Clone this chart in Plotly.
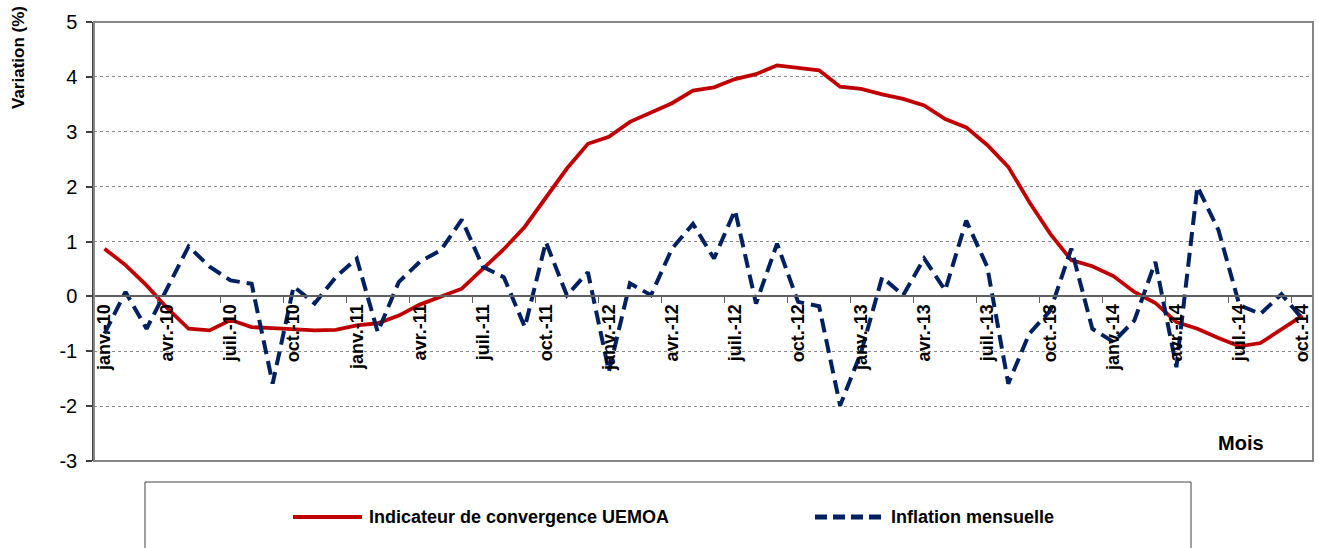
import plotly.graph_objects as go

# ---- data ----
month_names = ["janv.", "févr.", "mars", "avr.", "mai", "juin",
               "juil.", "août", "sept.", "oct.", "nov.", "déc."]
years = ["10", "11", "12", "13", "14"]
months = [f"{m}-{y}" for y in years for m in month_names][:58]  # janv.-10 .. oct.-14

indicateur = [0.87, 0.57, 0.20, -0.22, -0.59, -0.62, -0.43, -0.56, -0.58, -0.60,
              -0.62, -0.61, -0.53, -0.49, -0.35, -0.15, -0.01, 0.14, 0.50, 0.86,
              1.27, 1.81, 2.33, 2.78, 2.91, 3.18, 3.35, 3.52, 3.75, 3.81,
              3.96, 4.05, 4.21, 4.17, 4.12, 3.82, 3.78, 3.68, 3.60, 3.48,
              3.23, 3.08, 2.76, 2.36, 1.72, 1.14, 0.66, 0.55, 0.37, 0.08,
              -0.12, -0.47, -0.59, -0.76, -0.91, -0.85, -0.59, -0.35]

inflation = [-0.68, 0.08, -0.59, 0.15, 0.91, 0.54, 0.29, 0.23, -1.59, 0.18,
             -0.13, 0.35, 0.69, -0.65, 0.26, 0.63, 0.84, 1.40, 0.54, 0.35,
             -0.56, 0.99, 0.02, 0.44, -1.37, 0.24, 0.02, 0.87, 1.32, 0.69,
             1.57, -0.13, 0.96, -0.10, -0.18, -1.99, -1.02, 0.35, 0.02, 0.69,
             0.11, 1.38, 0.54, -1.59, -0.68, -0.26, 0.87, -0.59, -0.83, -0.44,
             0.63, -1.29, 2.00, 1.21, -0.16, -0.32, 0.04, -0.41]

series_names = ["Indicateur de convergence UEMOA", "Inflation mensuelle"]
y_ticks = [-3, -2, -1, 0, 1, 2, 3, 4, 5]
y_tick_text = ["-3", "-2", "-1", "0", "1", "2", "3", "4", "5"]

RED = "#C00000"
BLUE = "#002060"
FONT = "Liberation Sans, Arial, sans-serif"

x_idx = list(range(len(months)))
tick_idx = x_idx[::3]
tick_text = [months[i] for i in tick_idx]

fig = go.Figure()
fig.add_trace(go.Scatter(x=x_idx, y=indicateur, mode="lines", name=series_names[0],
                         line=dict(color=RED, width=3.8), showlegend=False))
fig.add_trace(go.Scatter(x=x_idx, y=inflation, mode="lines", name=series_names[1],
                         line=dict(color=BLUE, width=4, dash="14px,7px"), showlegend=False))

W, H = 1319, 548
L, R, T, B = 94, 6, 22, 87
pw, ph = W - L - R, H - T - B


def px(xp):
    return (xp - L) / pw


def py(yp):
    return (H - B - yp) / ph


fig.update_layout(
    width=W, height=H,
    margin=dict(l=L, r=R, t=T, b=B, autoexpand=False),
    paper_bgcolor="white", plot_bgcolor="white",
    font=dict(family=FONT, color="black"),
    showlegend=False,
    xaxis=dict(
        range=[-0.5, len(months) - 0.5],
        tickmode="array", tickvals=tick_idx, ticktext=tick_text,
        tickangle=-90, automargin=False,
        tickfont=dict(family=FONT, size=18, color="black", weight="bold"),
        ticks="",
        showgrid=False, zeroline=False,
        showline=True, linecolor="#606060", linewidth=1.5,
        anchor="free", position=3 / 8,
        minor=dict(tickvals=[2.5 + 3 * k for k in range(19)], ticks="outside",
                   ticklen=6, tickcolor="#606060", tickwidth=1, showgrid=False),
    ),
    yaxis=dict(
        range=[-3, 5], tickmode="array", tickvals=y_ticks, ticktext=y_tick_text,
        automargin=False,
        tickfont=dict(family=FONT, size=20, color="black"),
        ticks="outside", ticklen=6, tickcolor="#404040", tickwidth=1.5,
        ticklabelstandoff=5,
        showline=True, linecolor="#404040", linewidth=1.5,
        showgrid=True, gridcolor="#8a8a8a", griddash="dot", gridwidth=1,
        zeroline=False,
    ),
)

shapes = [
    # plot frame
    dict(type="rect", xref="paper", yref="paper", x0=0, x1=1, y0=0, y1=1,
         line=dict(color="#868686", width=2), layer="above"),
    # legend box
    dict(type="rect", xref="paper", yref="paper", x0=px(145), x1=px(1191),
         y0=py(570), y1=py(482), line=dict(color="#404040", width=1)),
    # legend line samples
    dict(type="line", xref="paper", yref="paper", x0=px(293), x1=px(362),
         y0=py(517), y1=py(517), line=dict(color=RED, width=4)),
    dict(type="line", xref="paper", yref="paper", x0=px(815), x1=px(884),
         y0=py(517), y1=py(517), line=dict(color=BLUE, width=5, dash="12px,6px")),
]
fig.update_layout(shapes=shapes)

annotations = [
    dict(text="<b>Variation (%)</b>", xref="paper", yref="paper", x=px(18), y=py(58),
         textangle=-90, showarrow=False, font=dict(family=FONT, size=17, color="black"),
         xanchor="center", yanchor="middle"),
    dict(text="<b>Mois</b>", xref="paper", yref="paper", x=px(1241), y=py(443),
         showarrow=False, font=dict(family=FONT, size=20, color="black"),
         xanchor="center", yanchor="middle"),
    dict(text=f"<b>{series_names[0]}</b>", xref="paper", yref="paper", x=px(367), y=py(517),
         showarrow=False, font=dict(family=FONT, size=18, color="black"),
         xanchor="left", yanchor="middle"),
    dict(text=f"<b>{series_names[1]}</b>", xref="paper", yref="paper", x=px(889), y=py(517),
         showarrow=False, font=dict(family=FONT, size=18, color="black"),
         xanchor="left", yanchor="middle"),
]
fig.update_layout(annotations=annotations)

fig.write_html("out.html", config={"displayModeBar": False},
               post_script="document.body.style.margin='0';document.body.style.overflow='hidden';")
